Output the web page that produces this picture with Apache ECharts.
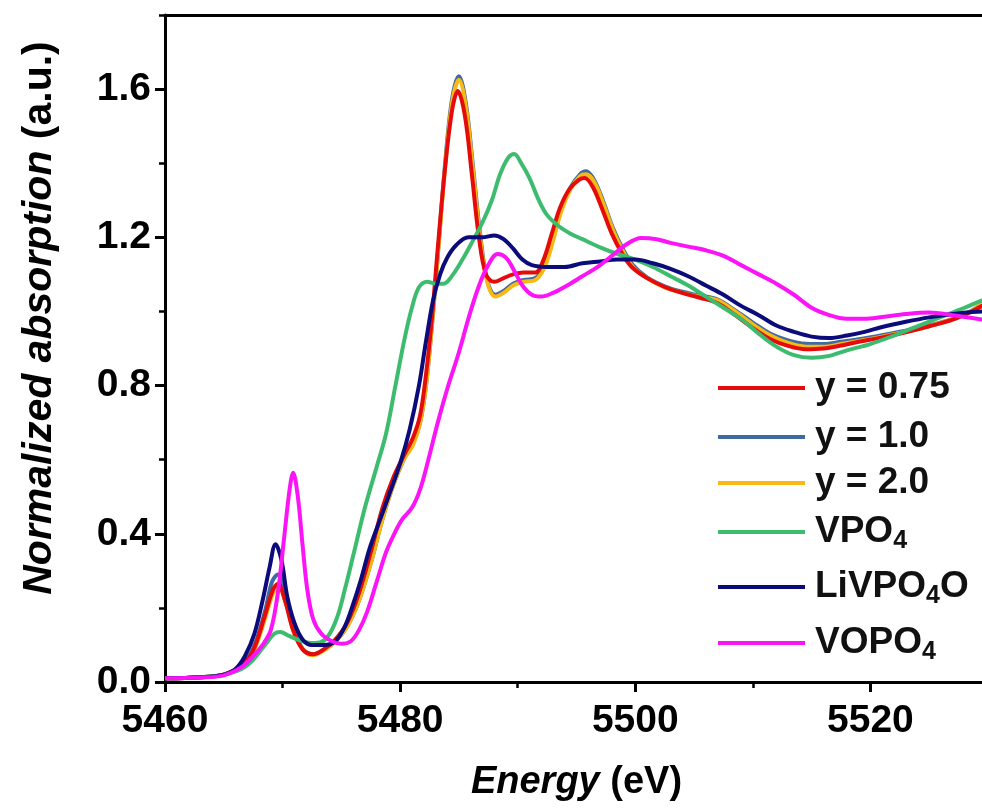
<!DOCTYPE html>
<html>
<head>
<meta charset="utf-8">
<script src="https://cdn.jsdelivr.net/npm/echarts@6/dist/echarts.min.js"></script>
<style>
  html, body { margin: 0; padding: 0; background: #fff; }
  #chart { width: 982px; height: 812px; }
</style>
</head>
<body>
<div id="chart"></div>
<script>
// values: [energy (eV), normalized absorption]
const y075 = [[5460,0.01],[5463,0.013],[5465,0.02],[5466.5,0.045],[5467.5,0.085],[5468.5,0.18],[5469.2,0.25],[5469.6,0.265],[5470.2,0.22],[5470.9,0.14],[5471.7,0.088],[5472.6,0.075],[5473.5,0.088],[5474.5,0.115],[5475.5,0.16],[5476.5,0.24],[5477.5,0.35],[5478.5,0.47],[5479.4,0.55],[5480.3,0.61],[5481.1,0.66],[5481.7,0.72],[5482.2,0.83],[5482.7,0.98],[5483.2,1.17],[5483.8,1.38],[5484.4,1.54],[5484.9,1.595],[5485.5,1.53],[5486.1,1.37],[5486.7,1.2],[5487.3,1.1],[5488,1.08],[5488.8,1.09],[5489.6,1.1],[5490.5,1.105],[5491.5,1.105],[5492.2,1.14],[5492.9,1.21],[5493.6,1.28],[5494.4,1.33],[5495.2,1.355],[5495.7,1.36],[5496.4,1.335],[5497.2,1.275],[5498,1.21],[5498.9,1.155],[5499.7,1.12],[5501,1.09],[5502.5,1.066],[5504,1.05],[5505.5,1.037],[5507,1.022],[5508.5,0.99],[5510,0.955],[5511.5,0.925],[5513,0.907],[5514.5,0.898],[5516,0.9],[5517.5,0.908],[5519,0.918],[5521,0.93],[5523,0.944],[5525,0.96],[5527,0.978],[5528.5,0.998],[5529.5,1.015],[5530,1.02]];
const y10 = [[5460,0.01],[5463,0.013],[5465,0.02],[5466.5,0.045],[5467.5,0.09],[5468.5,0.19],[5469.1,0.27],[5469.6,0.29],[5470.2,0.24],[5470.9,0.15],[5471.7,0.09],[5472.6,0.075],[5473.5,0.087],[5474.5,0.11],[5475.5,0.15],[5476.5,0.22],[5477.5,0.32],[5478.5,0.44],[5479.4,0.53],[5480.3,0.6],[5481.1,0.645],[5481.7,0.7],[5482.2,0.8],[5482.7,0.96],[5483.2,1.15],[5483.8,1.39],[5484.4,1.57],[5485,1.635],[5485.6,1.56],[5486.2,1.39],[5486.8,1.21],[5487.4,1.085],[5488.1,1.045],[5488.8,1.055],[5489.6,1.075],[5490.5,1.085],[5491.5,1.09],[5492.3,1.125],[5493,1.195],[5493.7,1.275],[5494.5,1.335],[5495.3,1.37],[5495.8,1.378],[5496.5,1.355],[5497.3,1.295],[5498.1,1.225],[5499,1.165],[5499.8,1.125],[5501,1.092],[5502.5,1.068],[5504,1.053],[5505.5,1.043],[5507,1.032],[5508.5,1.003],[5510,0.97],[5511.5,0.94],[5513,0.922],[5514.5,0.913],[5516,0.912],[5517.5,0.918],[5519,0.925],[5521,0.936],[5523,0.948],[5525,0.962],[5527,0.98],[5528.5,1.0],[5529.5,1.02],[5530,1.025]];
const y20 = [[5460,0.01],[5463,0.013],[5465,0.02],[5466.5,0.04],[5467.5,0.08],[5468.5,0.17],[5469.2,0.24],[5469.7,0.255],[5470.3,0.21],[5471,0.13],[5471.8,0.085],[5472.6,0.072],[5473.5,0.085],[5474.5,0.11],[5475.5,0.15],[5476.5,0.22],[5477.5,0.32],[5478.5,0.44],[5479.4,0.53],[5480.3,0.6],[5481.1,0.64],[5481.7,0.7],[5482.2,0.8],[5482.7,0.96],[5483.2,1.15],[5483.8,1.38],[5484.4,1.56],[5485,1.625],[5485.6,1.55],[5486.2,1.38],[5486.8,1.2],[5487.4,1.08],[5488.1,1.04],[5488.8,1.05],[5489.6,1.07],[5490.5,1.08],[5491.5,1.085],[5492.3,1.12],[5493,1.19],[5493.7,1.27],[5494.5,1.33],[5495.3,1.365],[5495.8,1.37],[5496.5,1.35],[5497.3,1.29],[5498.1,1.22],[5499,1.16],[5499.8,1.12],[5501,1.09],[5502.5,1.065],[5504,1.05],[5505.5,1.04],[5507,1.03],[5508.5,1.0],[5510,0.965],[5511.5,0.935],[5513,0.915],[5514.5,0.905],[5516,0.905],[5517.5,0.912],[5519,0.92],[5521,0.932],[5523,0.945],[5525,0.96],[5527,0.98],[5528.5,1.0],[5529.5,1.02],[5530,1.025]];
const vpo4 = [[5460,0.01],[5463,0.013],[5465,0.02],[5466.5,0.035],[5467.5,0.06],[5468.5,0.1],[5469.3,0.13],[5469.8,0.135],[5470.5,0.125],[5471.5,0.112],[5472.5,0.105],[5473.3,0.108],[5474,0.13],[5474.7,0.18],[5475.3,0.25],[5476,0.34],[5477,0.47],[5478,0.58],[5478.8,0.67],[5479.6,0.8],[5480.4,0.93],[5481,1.01],[5481.6,1.065],[5482.3,1.08],[5483,1.075],[5483.7,1.075],[5484.5,1.1],[5485.3,1.14],[5486,1.18],[5487,1.24],[5487.8,1.3],[5488.5,1.37],[5489.2,1.415],[5489.7,1.425],[5490.3,1.4],[5491,1.36],[5491.8,1.3],[5492.5,1.26],[5493.5,1.23],[5494.5,1.21],[5495.5,1.195],[5497,1.173],[5498.5,1.155],[5500,1.14],[5501.5,1.12],[5503,1.095],[5504.5,1.07],[5506,1.04],[5507.5,1.01],[5509,0.98],[5510.5,0.94],[5512,0.905],[5513.5,0.882],[5515,0.875],[5516.5,0.88],[5518,0.895],[5520,0.912],[5522,0.935],[5524,0.96],[5526,0.985],[5528,1.01],[5529.5,1.03],[5530,1.035]];
const livpo4o = [[5460,0.01],[5463,0.013],[5465,0.02],[5466,0.035],[5466.8,0.07],[5467.6,0.13],[5468.3,0.22],[5468.9,0.31],[5469.4,0.372],[5469.9,0.33],[5470.4,0.23],[5471,0.16],[5471.7,0.115],[5472.5,0.1],[5473.5,0.1],[5474.5,0.11],[5475.3,0.15],[5476,0.21],[5476.7,0.28],[5477.4,0.36],[5478.2,0.43],[5479,0.5],[5480,0.59],[5480.8,0.68],[5481.6,0.8],[5482.2,0.92],[5482.8,1.03],[5483.4,1.1],[5484,1.145],[5484.8,1.18],[5485.8,1.2],[5487,1.2],[5488,1.205],[5488.8,1.195],[5489.6,1.17],[5490.4,1.14],[5491.2,1.125],[5492.5,1.12],[5494,1.12],[5495.5,1.13],[5497,1.135],[5498.5,1.14],[5500,1.14],[5501.5,1.13],[5503,1.115],[5504.5,1.095],[5506,1.07],[5507.5,1.045],[5509,1.015],[5510.5,0.99],[5512,0.962],[5513.5,0.945],[5515,0.932],[5516.5,0.928],[5518,0.935],[5519.5,0.945],[5521,0.958],[5523,0.972],[5525,0.984],[5527,0.993],[5529.5,1.0],[5530,1.0]];
const vopo4 = [[5460,0.01],[5463,0.012],[5465,0.018],[5466.5,0.04],[5467.5,0.07],[5468.3,0.1],[5469,0.14],[5469.6,0.24],[5470.1,0.38],[5470.6,0.52],[5470.9,0.565],[5471.3,0.5],[5471.7,0.37],[5472.1,0.25],[5472.6,0.17],[5473.3,0.13],[5474.2,0.11],[5475,0.103],[5475.8,0.11],[5476.5,0.14],[5477.2,0.19],[5478,0.27],[5478.8,0.35],[5479.5,0.4],[5480.2,0.44],[5481,0.47],[5481.7,0.52],[5482.4,0.6],[5483.2,0.7],[5484,0.79],[5485,0.89],[5485.8,0.98],[5486.6,1.06],[5487.4,1.12],[5488.3,1.155],[5489,1.145],[5489.7,1.11],[5490.4,1.07],[5491.2,1.045],[5492,1.04],[5493,1.05],[5494.2,1.07],[5495.5,1.095],[5496.8,1.12],[5498,1.15],[5499.2,1.18],[5500.5,1.198],[5501.8,1.195],[5503,1.185],[5504.5,1.175],[5506,1.165],[5507.5,1.15],[5509,1.125],[5510.5,1.1],[5512,1.075],[5513.5,1.045],[5515,1.01],[5516.5,0.99],[5518,0.98],[5519.5,0.98],[5521,0.985],[5523,0.993],[5525,0.997],[5527,0.99],[5529.5,0.978],[5530,0.976]];

const legendNames = ['y = 0.75', 'y = 1.0', 'y = 2.0', 'VPO4', 'LiVPO4O', 'VOPO4'];
const legendLabels = {
    'y = 0.75': 'y = 0.75',
    'y = 1.0': 'y = 1.0',
    'y = 2.0': 'y = 2.0',
    'VPO4': 'VPO{s|4}',
    'LiVPO4O': 'LiVPO{s|4}O',
    'VOPO4': 'VOPO{s|4}'
};
const legendRows = [388, 437, 483, 532, 587, 643];

const FONT = "'Liberation Sans', Arial, Helvetica, sans-serif";

let chart = echarts.init(document.getElementById('chart'), null, {renderer: 'canvas'});

function lineSeries(name, data, color) {
    return {
        name: name,
        type: 'line',
        data: data,
        smooth: 0.35,
        showSymbol: false,
        symbol: 'none',
        lineStyle: {color: color, width: 4},
        itemStyle: {color: color},
        xAxisIndex: 0,
        yAxisIndex: 0,
        animation: false
    };
}

// one legend box per row, so each row sits where it does in the figure
let legends = legendNames.map((name, i) => ({
    data: [name],
    left: 718,
    top: legendRows[i] - 22,
    padding: 0,
    icon: 'rect',
    itemWidth: 87,
    itemHeight: 4,
    selectedMode: false,
    formatter: n => legendLabels[n],
    textStyle: {
        color: '#111',
        fontFamily: FONT,
        fontWeight: 'bold',
        fontSize: 37,
        lineHeight: 44,
        padding: [0, 0, 0, 5],
        rich: {
            s: {fontFamily: FONT, fontWeight: 'bold', fontSize: 25, lineHeight: 24, verticalAlign: 'bottom', color: '#111'}
        }
    }
}));

const axisText = {color: '#000', fontFamily: FONT, fontWeight: 'bold', fontSize: 39};

let option = {
    backgroundColor: '#fff',
    animation: false,
    grid: {left: 165, top: 15, right: -6, bottom: 130, outerBoundsMode: 'none', containLabel: false},
    legend: legends,
    xAxis: [
        {
            type: 'value', min: 5460, max: 5530, interval: 20,
            position: 'bottom',
            axisLine: {show: true, lineStyle: {color: '#000', width: 3}},
            axisTick: {show: true, inside: false, length: 10, lineStyle: {width: 3, color: '#000'}},
            axisLabel: Object.assign({margin: 20, showMaxLabel: false, formatter: v => String(v)}, axisText),
            splitLine: {show: false},
            name: '{i|Energy}{n|\u00a0(eV)}',
            nameLocation: 'middle',
            nameGap: 82,
            nameTextStyle: {
                rich: {
                    i: {fontFamily: FONT, fontWeight: 'bold', fontStyle: 'italic', fontSize: 38, color: '#000'},
                    n: {fontFamily: FONT, fontWeight: 'bold', fontSize: 38, color: '#000'}
                }
            }
        },
        {   // minor ticks
            type: 'value', min: 5460, max: 5530, interval: 10,
            position: 'bottom',
            axisLine: {show: false},
            axisTick: {show: true, length: 6, lineStyle: {width: 2.5, color: '#000'}},
            axisLabel: {show: false},
            splitLine: {show: false}
        },
        {   // top frame line
            type: 'value', min: 5460, max: 5530,
            position: 'top',
            axisLine: {show: true, lineStyle: {color: '#000', width: 3}},
            axisTick: {show: false},
            axisLabel: {show: false},
            splitLine: {show: false}
        }
    ],
    yAxis: [
        {
            type: 'value', min: 0, max: 1.8, interval: 0.4,
            position: 'left',
            axisLine: {show: true, lineStyle: {color: '#000', width: 3}},
            axisTick: {show: true, length: 10, lineStyle: {width: 3, color: '#000'}},
            axisLabel: Object.assign({margin: 14, showMaxLabel: false, formatter: v => v.toFixed(1)}, axisText),
            splitLine: {show: false}
        },
        {   // minor ticks
            type: 'value', min: 0, max: 1.8, interval: 0.2,
            position: 'left',
            axisLine: {show: false},
            axisTick: {show: true, length: 6, lineStyle: {width: 2.5, color: '#000'}},
            axisLabel: {show: false},
            splitLine: {show: false}
        }
    ],
    graphic: [{
        type: 'text',
        x: 40,
        y: 318,
        rotation: Math.PI / 2,
        style: {
            text: '{i|Normalized absorption}{n|\u00a0(a.u.)}',
            align: 'center',
            verticalAlign: 'middle',
            rich: {
                i: {fontFamily: FONT, fontWeight: 'bold', fontStyle: 'italic', fontSize: 41, fill: '#000'},
                n: {fontFamily: FONT, fontWeight: 'bold', fontSize: 41, fill: '#000'}
            }
        }
    }],
    series: [
        lineSeries('y = 1.0', y10, '#3f6ba3'),
        lineSeries('y = 2.0', y20, '#f9b914'),
        lineSeries('y = 0.75', y075, '#e60b0b'),
        lineSeries('VPO4', vpo4, '#3dbb6f'),
        lineSeries('LiVPO4O', livpo4o, '#0b0b7a'),
        lineSeries('VOPO4', vopo4, '#fb14f6')
    ]
};

chart.setOption(option);
</script>
</body>
</html>
